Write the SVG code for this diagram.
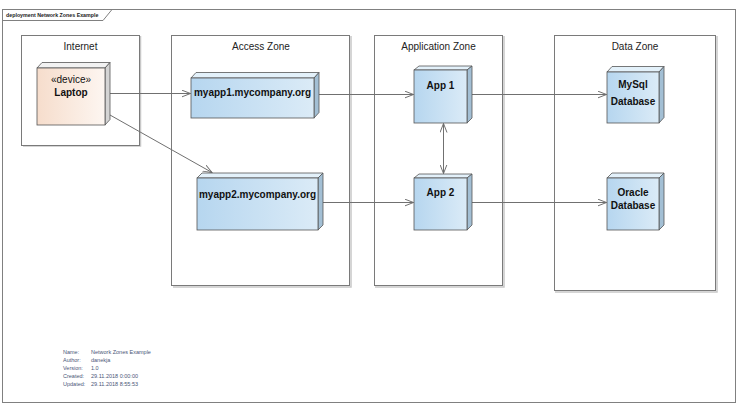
<svg xmlns="http://www.w3.org/2000/svg" width="744" height="406" viewBox="0 0 744 406">
  <style>
    .frame { fill: #ffffff; stroke: #808080; stroke-width: 1; }
    .zone { fill: #ffffff; stroke: #7a7a7a; stroke-width: 1; }
    .zshadow { fill: none; stroke: #c8c8c8; stroke-width: 1.5; }
    .ztitle { font-family: "Liberation Sans", Arial, sans-serif; font-size: 10px; fill: #222222; text-anchor: middle; }
    .ntext { font-family: "Liberation Sans", Arial, sans-serif; font-size: 10px; font-weight: bold; fill: #111111; text-anchor: middle; }
    .nreg { font-family: "Liberation Sans", Arial, sans-serif; font-size: 10px; fill: #111111; text-anchor: middle; }
    .edge { stroke: #707070; stroke-width: 1; fill: none; }
    .nstroke { stroke: #555555; stroke-width: 0.8; }
    .bside { fill: #a3bfd4; }
    .btop { fill: #e3f1fa; }
    .lside { fill: #d4d4d4; }
    .ltop { fill: #f2f2f2; }
    .foot { font-family: "Liberation Sans", Arial, sans-serif; font-size: 5.5px; fill: #4a5677; }
    .tab { font-family: "Liberation Sans", Arial, sans-serif; font-size: 5.3px; font-weight: bold; fill: #222222; }
  </style>
  <defs>
    <linearGradient id="gBlue" x1="0" y1="0" x2="1" y2="0">
      <stop offset="0" stop-color="#b6d6ef"/>
      <stop offset="1" stop-color="#dbebf7"/>
    </linearGradient>
    <linearGradient id="gPeach" x1="0" y1="0" x2="1" y2="0">
      <stop offset="0" stop-color="#f6ddcc"/>
      <stop offset="1" stop-color="#fdf6f1"/>
    </linearGradient>
    <marker id="arr" markerWidth="10" markerHeight="8" refX="9" refY="4" orient="auto" markerUnits="userSpaceOnUse">
      <path d="M0,0.5 L9,4 L0,7.5" fill="none" stroke="#707070" stroke-width="1"/>
    </marker>
    <marker id="arrS" markerWidth="10" markerHeight="8" refX="1" refY="4" orient="auto" markerUnits="userSpaceOnUse">
      <path d="M10,0.5 L1,4 L10,7.5" fill="none" stroke="#707070" stroke-width="1"/>
    </marker>
  </defs>

  <rect width="744" height="406" fill="#ffffff"/>

  <g id="frame">
    <rect class="frame" x="2.5" y="9.5" width="733" height="393"/>
    <polyline points="2.5,20.5 103,20.5 112,9.5" fill="none" stroke="#808080" stroke-width="1"/>
    <text class="tab" x="6" y="17">deployment Network Zones Example</text>
  </g>

  <g id="zone-internet">
    <polyline class="zshadow" points="140.5,36 140.5,146 23,146"/>
    <rect class="zone" x="21.5" y="35.5" width="118" height="110"/>
    <text class="ztitle" x="80.5" y="49.5">Internet</text>
  </g>
  <g id="zone-access">
    <polyline class="zshadow" points="351,36 351,287 173,287"/>
    <rect class="zone" x="171.5" y="35.5" width="178" height="250"/>
    <text class="ztitle" x="261" y="49.5">Access Zone</text>
  </g>
  <g id="zone-application">
    <polyline class="zshadow" points="504,36 504,287 375,287"/>
    <rect class="zone" x="374.5" y="35.5" width="128" height="250"/>
    <text class="ztitle" x="438.5" y="49.5">Application Zone</text>
  </g>
  <g id="zone-data">
    <polyline class="zshadow" points="717,36 717,292 555,292"/>
    <rect class="zone" x="554.5" y="35.5" width="161" height="255"/>
    <text class="ztitle" x="635" y="49.5">Data Zone</text>
  </g>

  <g id="connectors">
    <line class="edge" x1="110" y1="93.5" x2="190.5" y2="93.5" marker-end="url(#arr)"/>
    <line class="edge" x1="110" y1="115" x2="212" y2="172.5" marker-end="url(#arr)"/>
    <line class="edge" x1="318" y1="94.5" x2="413.5" y2="94.5" marker-end="url(#arr)"/>
    <line class="edge" x1="472" y1="94.5" x2="606.5" y2="94.5" marker-end="url(#arr)"/>
    <line class="edge" x1="443.5" y1="123.5" x2="443.5" y2="173.5" marker-start="url(#arrS)" marker-end="url(#arr)"/>
    <line class="edge" x1="323" y1="202.5" x2="413.5" y2="202.5" marker-end="url(#arr)"/>
    <line class="edge" x1="472" y1="202.5" x2="606.5" y2="202.5" marker-end="url(#arr)"/>
  </g>

  <g id="node-laptop">
    <polygon class="ltop nstroke" points="37,68 42,62.5 110,62.5 105,68"/>
    <polygon class="lside nstroke" points="105,68 110,62.5 110,119.5 105,125"/>
    <rect x="37" y="68" width="68" height="57" fill="url(#gPeach)" class="nstroke"/>
    <text class="nreg" x="71" y="82.5">«device»</text>
    <text class="ntext" x="71" y="95.5">Laptop</text>
  </g>

  <g id="node-myapp1">
    <polygon class="btop nstroke" points="191,78 196,72.5 319,72.5 314,78"/>
    <polygon class="bside nstroke" points="314,78 319,72.5 319,112.5 314,118"/>
    <rect x="191" y="78" width="123" height="40" fill="url(#gBlue)" class="nstroke"/>
    <text class="ntext" x="252.5" y="95.5">myapp1.mycompany.org</text>
  </g>

  <g id="node-myapp2">
    <polygon class="btop nstroke" points="197,178 202,173 323,173 318,178"/>
    <polygon class="bside nstroke" points="318,178 323,173 323,225 318,230"/>
    <rect x="197" y="178" width="121" height="52" fill="url(#gBlue)" class="nstroke"/>
    <text class="ntext" x="257.5" y="197.5">myapp2.mycompany.org</text>
  </g>

  <g id="node-app1">
    <polygon class="btop nstroke" points="414,70 419,66 472,66 467,70"/>
    <polygon class="bside nstroke" points="467,70 472,66 472,118 467,123"/>
    <rect x="414" y="70" width="53" height="53" fill="url(#gBlue)" class="nstroke"/>
    <text class="ntext" x="440.5" y="88.5">App 1</text>
  </g>

  <g id="node-app2">
    <polygon class="btop nstroke" points="414,178 419,174 472,174 467,178"/>
    <polygon class="bside nstroke" points="467,178 472,174 472,225 467,230"/>
    <rect x="414" y="178" width="53" height="52" fill="url(#gBlue)" class="nstroke"/>
    <text class="ntext" x="440.5" y="195.5">App 2</text>
  </g>

  <g id="node-mysql">
    <polygon class="btop nstroke" points="607,72 612,66.5 664,66.5 659,72"/>
    <polygon class="bside nstroke" points="659,72 664,66.5 664,117.5 659,123"/>
    <rect x="607" y="72" width="52" height="51" fill="url(#gBlue)" class="nstroke"/>
    <text class="ntext" x="633" y="87.5">MySql</text>
    <text class="ntext" x="633" y="104.5">Database</text>
  </g>

  <g id="node-oracle">
    <polygon class="btop nstroke" points="607,178 612,173 664,173 659,178"/>
    <polygon class="bside nstroke" points="659,178 664,173 664,225 659,230"/>
    <rect x="607" y="178" width="52" height="52" fill="url(#gBlue)" class="nstroke"/>
    <text class="ntext" x="633" y="195.5">Oracle</text>
    <text class="ntext" x="633" y="208.5">Database</text>
  </g>

  <g id="footer">
    <text class="foot" x="63" y="353.5">Name:</text>
    <text class="foot" x="91" y="353.5">Network Zones Example</text>
    <text class="foot" x="63" y="361.5">Author:</text>
    <text class="foot" x="91" y="361.5">danekja</text>
    <text class="foot" x="63" y="369.5">Version:</text>
    <text class="foot" x="91" y="369.5">1.0</text>
    <text class="foot" x="63" y="377.5">Created:</text>
    <text class="foot" x="91" y="377.5">29.11.2018 0:00:00</text>
    <text class="foot" x="63" y="385.5">Updated:</text>
    <text class="foot" x="91" y="385.5">29.11.2018 8:55:53</text>
  </g>
</svg>
